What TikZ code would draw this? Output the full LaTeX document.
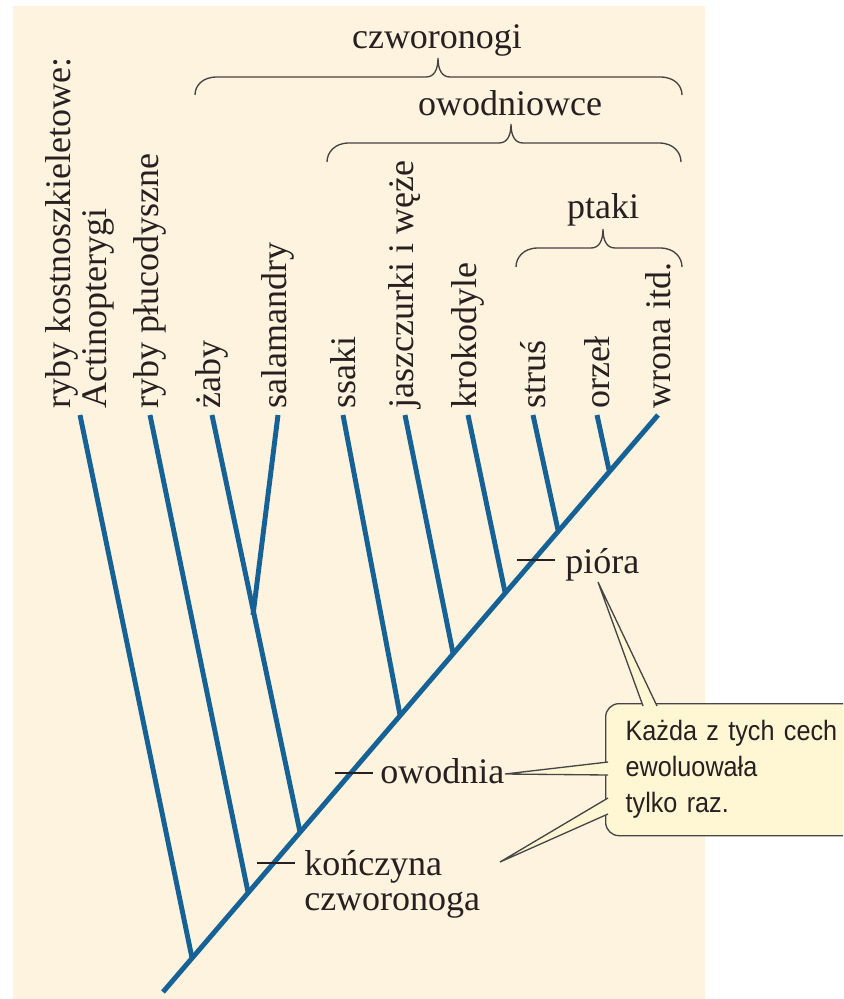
\documentclass[tikz,border=0pt]{standalone}
\usepackage{fontspec}
\setmainfont{Liberation Serif}
\newfontfamily\notefont[FakeStretch=0.9]{Liberation Sans}
\usetikzlibrary{calc}

\definecolor{bgbeige}{RGB}{253,243,222}
\definecolor{treeblue}{RGB}{22,98,150}
\definecolor{inkdark}{RGB}{40,32,32}
\definecolor{notefill}{RGB}{255,246,212}
\definecolor{noteedge}{RGB}{70,70,70}

\newcommand{\labelfont}{\fontsize{27}{26.5}\selectfont}

\tikzset{
  branch/.style={draw=treeblue, line width=3.7pt},
  taxon/.style={rotate=90, anchor=west, inner xsep=5pt, inner ysep=0pt, text=inkdark, font=\labelfont},
  clade/.style={inner sep=0pt, text=inkdark, font=\labelfont},
  tick/.style={draw=inkdark, line width=1pt},
  bracepath/.style={draw=inkdark!85, line width=1pt},
  notebox/.style={draw=noteedge, fill=notefill, line width=1pt, rounded corners=10pt,
    inner xsep=15pt, inner ysep=0pt, text width=175pt, align=left, minimum height=99pt,
    text=inkdark, font=\notefont\fontsize{21}{27}\selectfont},
  pointer/.style={draw=noteedge, line width=1pt}
}

% left x, tip x, right x, y of the curled ends, y of the bar
\newcommand{\cladebrace}[5]{%
  \draw[bracepath] (#1,#4) .. controls (#1,{#4-9}) and ({#1+7},#5) .. ({#1+22},#5)
    -- ({#2-12},#5) .. controls ({#2-4},#5) and (#2,{#5-7}) .. (#2,{#5-19})
    .. controls (#2,{#5-7}) and ({#2+4},#5) .. ({#2+12},#5)
    -- ({#3-22},#5) .. controls ({#3-7},#5) and (#3,{#4-9}) .. (#3,#4);}

\begin{document}
\begin{tikzpicture}[x=0.75pt,y=0.75pt,yscale=-1,xscale=1]
\clip (0,0) rectangle (843,999);
%Background
\fill[bgbeige] (13,6) rectangle (705,999);

% Taxon labels
\node[taxon, align=left] (act) at (80,415) {ryby kostnoszkieletowe:\\Actinopterygi};
\node[taxon] (plu) at (150,415) {ryby płucodyszne};
\node[taxon] (zaby) at (212,415) {żaby};
\node[taxon] (sal) at (278,415) {salamandry};
\node[taxon] (ssaki) at (343,415) {ssaki};
\node[taxon] (jasz) at (405,415) {jaszczurki i węże};
\node[taxon] (krok) at (468,415) {krokodyle};
\node[taxon] (strus) at (533,415) {struś};
\node[taxon] (orzel) at (597,415) {orzeł};
\node[taxon] (wrona) at (658,415) {wrona itd.};

% Branch points
\coordinate (root) at (163,992);
\coordinate (b1) at (192,958);
\coordinate (b2) at (248,892);
\coordinate (b3) at (300,832);
\coordinate (amph) at (253,615);
\coordinate (b4) at (400,715);
\coordinate (b5) at (453,653);
\coordinate (b6) at (505,592);
\coordinate (b7) at (558,530);
\coordinate (b8) at (609,470);

%Tree
\draw[branch] (root) -- (wrona.west);
\draw[branch] (act.west) -- (b1);
\draw[branch] (plu.west) -- (b2);
\draw[branch] (zaby.west) -- (b3);
\draw[branch] (sal.west) -- (amph);
\draw[branch] (ssaki.west) -- (b4);
\draw[branch] (jasz.west) -- (b5);
\draw[branch] (krok.west) -- (b6);
\draw[branch] (strus.west) -- (b7);
\draw[branch] (orzel.west) -- (b8);

% Clade braces
\node[clade, anchor=base] (czw) at (437,49) {czworonogi};
\cladebrace{195}{438}{682}{95}{77}
\node[clade, anchor=base] (owo) at (510,115) {owodniowce};
\cladebrace{327}{511}{681}{162}{143}
\node[clade, anchor=base] (pta) at (603,218) {ptaki};
\cladebrace{516}{603}{682}{267}{248}

% Traits
\node[clade, anchor=north west, align=left] (kon) at (304,850) {kończyna\\czworonoga};
\draw[tick] (257,863) -- (295,863);
\node[clade, anchor=base west] (owod) at (380,783) {owodnia};
\draw[tick] (335,773) -- (373,773);
\node[clade, anchor=base west] (pio) at (565,573) {pióra};
\draw[tick] (517,560) -- (555,560);

% Callout
\node[notebox, anchor=north west] (cech) at (605,703) {Każda z tych cech\\ewoluowała\\tylko raz.};
\coordinate (p1) at (598,582);
\coordinate (p2) at (505,774);
\coordinate (p3) at (500,862);
\coordinate (w1a) at (643,706);
\coordinate (w1b) at (657,706);
\coordinate (w2a) at (608,762);
\coordinate (w2b) at (608,775);
\coordinate (w3a) at (608,798);
\coordinate (w3b) at (608,814);
\fill[notefill] (p1) -- (w1a) -- (w1b) -- cycle;
\fill[notefill] (p2) -- (w2a) -- (w2b) -- cycle;
\fill[notefill] (p3) -- (w3a) -- (w3b) -- cycle;
\draw[pointer] (w1a) -- (p1) -- (w1b);
\draw[pointer] (w2a) -- (p2) -- (w2b);
\draw[pointer] (w3a) -- (p3) -- (w3b);

\end{tikzpicture}
\end{document}
